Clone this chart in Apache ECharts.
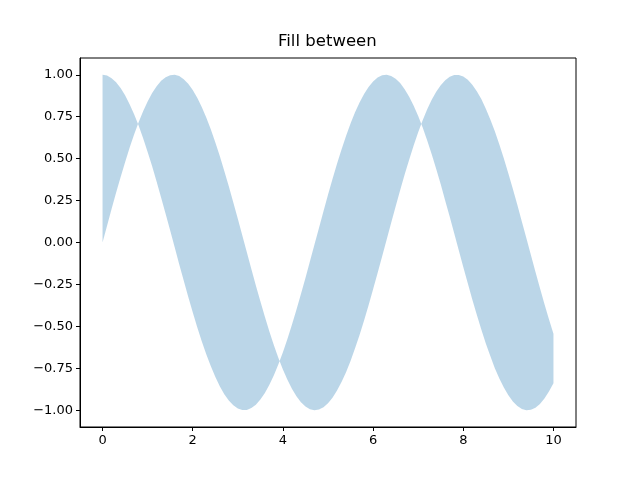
<!DOCTYPE html>
<html>
<head>
<meta charset="utf-8">
<script src="https://cdn.jsdelivr.net/npm/echarts@6/dist/echarts.min.js"></script>
<style>
  html, body { margin: 0; padding: 0; background: #fff; }
  #chart { width: 640px; height: 480px; }
</style>
</head>
<body>
<div id="chart"></div>
<script>
// x positions of the two curves
const xs = [0.0, 0.1, 0.2, 0.3, 0.4, 0.5, 0.6, 0.7, 0.8, 0.9,
  1.0, 1.1, 1.2, 1.3, 1.4, 1.5, 1.6, 1.7, 1.8, 1.9,
  2.0, 2.1, 2.2, 2.3, 2.4, 2.5, 2.6, 2.7, 2.8, 2.9,
  3.0, 3.1, 3.2, 3.3, 3.4, 3.5, 3.6, 3.7, 3.8, 3.9,
  4.0, 4.1, 4.2, 4.3, 4.4, 4.5, 4.6, 4.7, 4.8, 4.9,
  5.0, 5.1, 5.2, 5.3, 5.4, 5.5, 5.6, 5.7, 5.8, 5.9,
  6.0, 6.1, 6.2, 6.3, 6.4, 6.5, 6.6, 6.7, 6.8, 6.9,
  7.0, 7.1, 7.2, 7.3, 7.4, 7.5, 7.6, 7.7, 7.8, 7.9,
  8.0, 8.1, 8.2, 8.3, 8.4, 8.5, 8.6, 8.7, 8.8, 8.9,
  9.0, 9.1, 9.2, 9.3, 9.4, 9.5, 9.6, 9.7, 9.8, 9.9, 10.0]

// first edge of the band
const curveA = [0.000, 0.100, 0.199, 0.296, 0.389, 0.479, 0.565, 0.644, 0.717, 0.783,
  0.841, 0.891, 0.932, 0.964, 0.985, 0.997, 1.000, 0.992, 0.974, 0.946,
  0.909, 0.863, 0.808, 0.746, 0.675, 0.598, 0.516, 0.427, 0.335, 0.239,
  0.141, 0.042, -0.058, -0.158, -0.256, -0.351, -0.443, -0.530, -0.612, -0.688,
  -0.757, -0.818, -0.872, -0.916, -0.952, -0.978, -0.994, -1.000, -0.996, -0.982,
  -0.959, -0.926, -0.883, -0.832, -0.773, -0.706, -0.631, -0.551, -0.465, -0.374,
  -0.279, -0.182, -0.083, 0.017, 0.117, 0.215, 0.312, 0.405, 0.494, 0.578,
  0.657, 0.729, 0.794, 0.851, 0.899, 0.938, 0.968, 0.988, 0.999, 0.999,
  0.989, 0.970, 0.941, 0.902, 0.855, 0.798, 0.734, 0.663, 0.585, 0.501,
  0.412, 0.319, 0.223, 0.124, 0.025, -0.075, -0.174, -0.272, -0.366, -0.458, -0.544]

// second edge of the band
const curveB = [1.000, 0.995, 0.980, 0.955, 0.921, 0.878, 0.825, 0.765, 0.697, 0.622,
  0.540, 0.454, 0.362, 0.267, 0.170, 0.071, -0.029, -0.129, -0.227, -0.323,
  -0.416, -0.505, -0.589, -0.666, -0.737, -0.801, -0.857, -0.904, -0.942, -0.971,
  -0.990, -0.999, -0.998, -0.987, -0.967, -0.936, -0.897, -0.848, -0.791, -0.726,
  -0.654, -0.575, -0.490, -0.401, -0.307, -0.211, -0.112, -0.012, 0.087, 0.187,
  0.284, 0.378, 0.469, 0.554, 0.635, 0.709, 0.776, 0.835, 0.886, 0.927,
  0.960, 0.983, 0.997, 1.000, 0.993, 0.977, 0.951, 0.914, 0.869, 0.816,
  0.754, 0.685, 0.608, 0.526, 0.438, 0.347, 0.249, 0.153, 0.053, -0.046,
  -0.146, -0.243, -0.340, -0.431, -0.519, -0.602, -0.677, -0.749, -0.811, -0.865,
  -0.911, -0.948, -0.975, -0.992, -1.000, -0.997, -0.985, -0.963, -0.930, -0.889, -0.839]

// tick labels
const xTicks = [0, 2, 4, 6, 8, 10]
const yTicks = [-1.0, -0.75, -0.5, -0.25, 0, 0.25, 0.5, 0.75, 1.0]

const chart = echarts.init(document.getElementById('chart'))

const font = 'DejaVu Sans'

const option = {
  backgroundColor: '#fff',
  animation: false,
  title: {
    text: 'Fill between',
    left: 278,
    top: 33,
    padding: 0,
    textStyle: { fontFamily: font, fontSize: 16.5, fontWeight: 'normal', color: '#000' }
  },
  grid: {
    left: 80,
    right: 64,
    top: 58,
    bottom: 53,
    show: true,
    borderColor: '#000',
    borderWidth: 1
  },
  xAxis: {
    type: 'value',
    min: -0.5,
    max: 10.5,
    splitLine: { show: false },
    axisLine: { show: true, onZero: false, lineStyle: { color: '#000' } },
    axisTick: { show: true, length: 4, customValues: xTicks, lineStyle: { color: '#000' } },
    axisLabel: {
      customValues: xTicks,
      margin: 7,
      color: '#000',
      fontFamily: font,
      fontSize: 13,
      formatter: v => String(v)
    }
  },
  yAxis: {
    type: 'value',
    min: -1.1,
    max: 1.1,
    splitLine: { show: false },
    axisLine: { show: true, onZero: false, lineStyle: { color: '#000' } },
    axisTick: { show: true, length: 4, customValues: yTicks, lineStyle: { color: '#000' } },
    axisLabel: {
      customValues: yTicks,
      margin: 7,
      color: '#000',
      fontFamily: font,
      fontSize: 13,
      formatter: v => v.toFixed(2).replace('-', '\u2212')
    }
  },
  series: [{
    type: 'custom',
    data: [[0, 0]],
    renderItem: function (params, api) {
      // band polygon: first edge forward, second edge back
      const pts = []
      for (let i = 0; i < xs.length; i++) pts.push(api.coord([xs[i], curveA[i]]))
      for (let i = xs.length - 1; i >= 0; i--) pts.push(api.coord([xs[i], curveB[i]]))
      return {
        type: 'polygon',
        shape: { points: pts },
        style: { fill: 'rgba(31,119,180,0.3)', stroke: null }
      }
    }
  }]
}

chart.setOption(option)
</script>
</body>
</html>
